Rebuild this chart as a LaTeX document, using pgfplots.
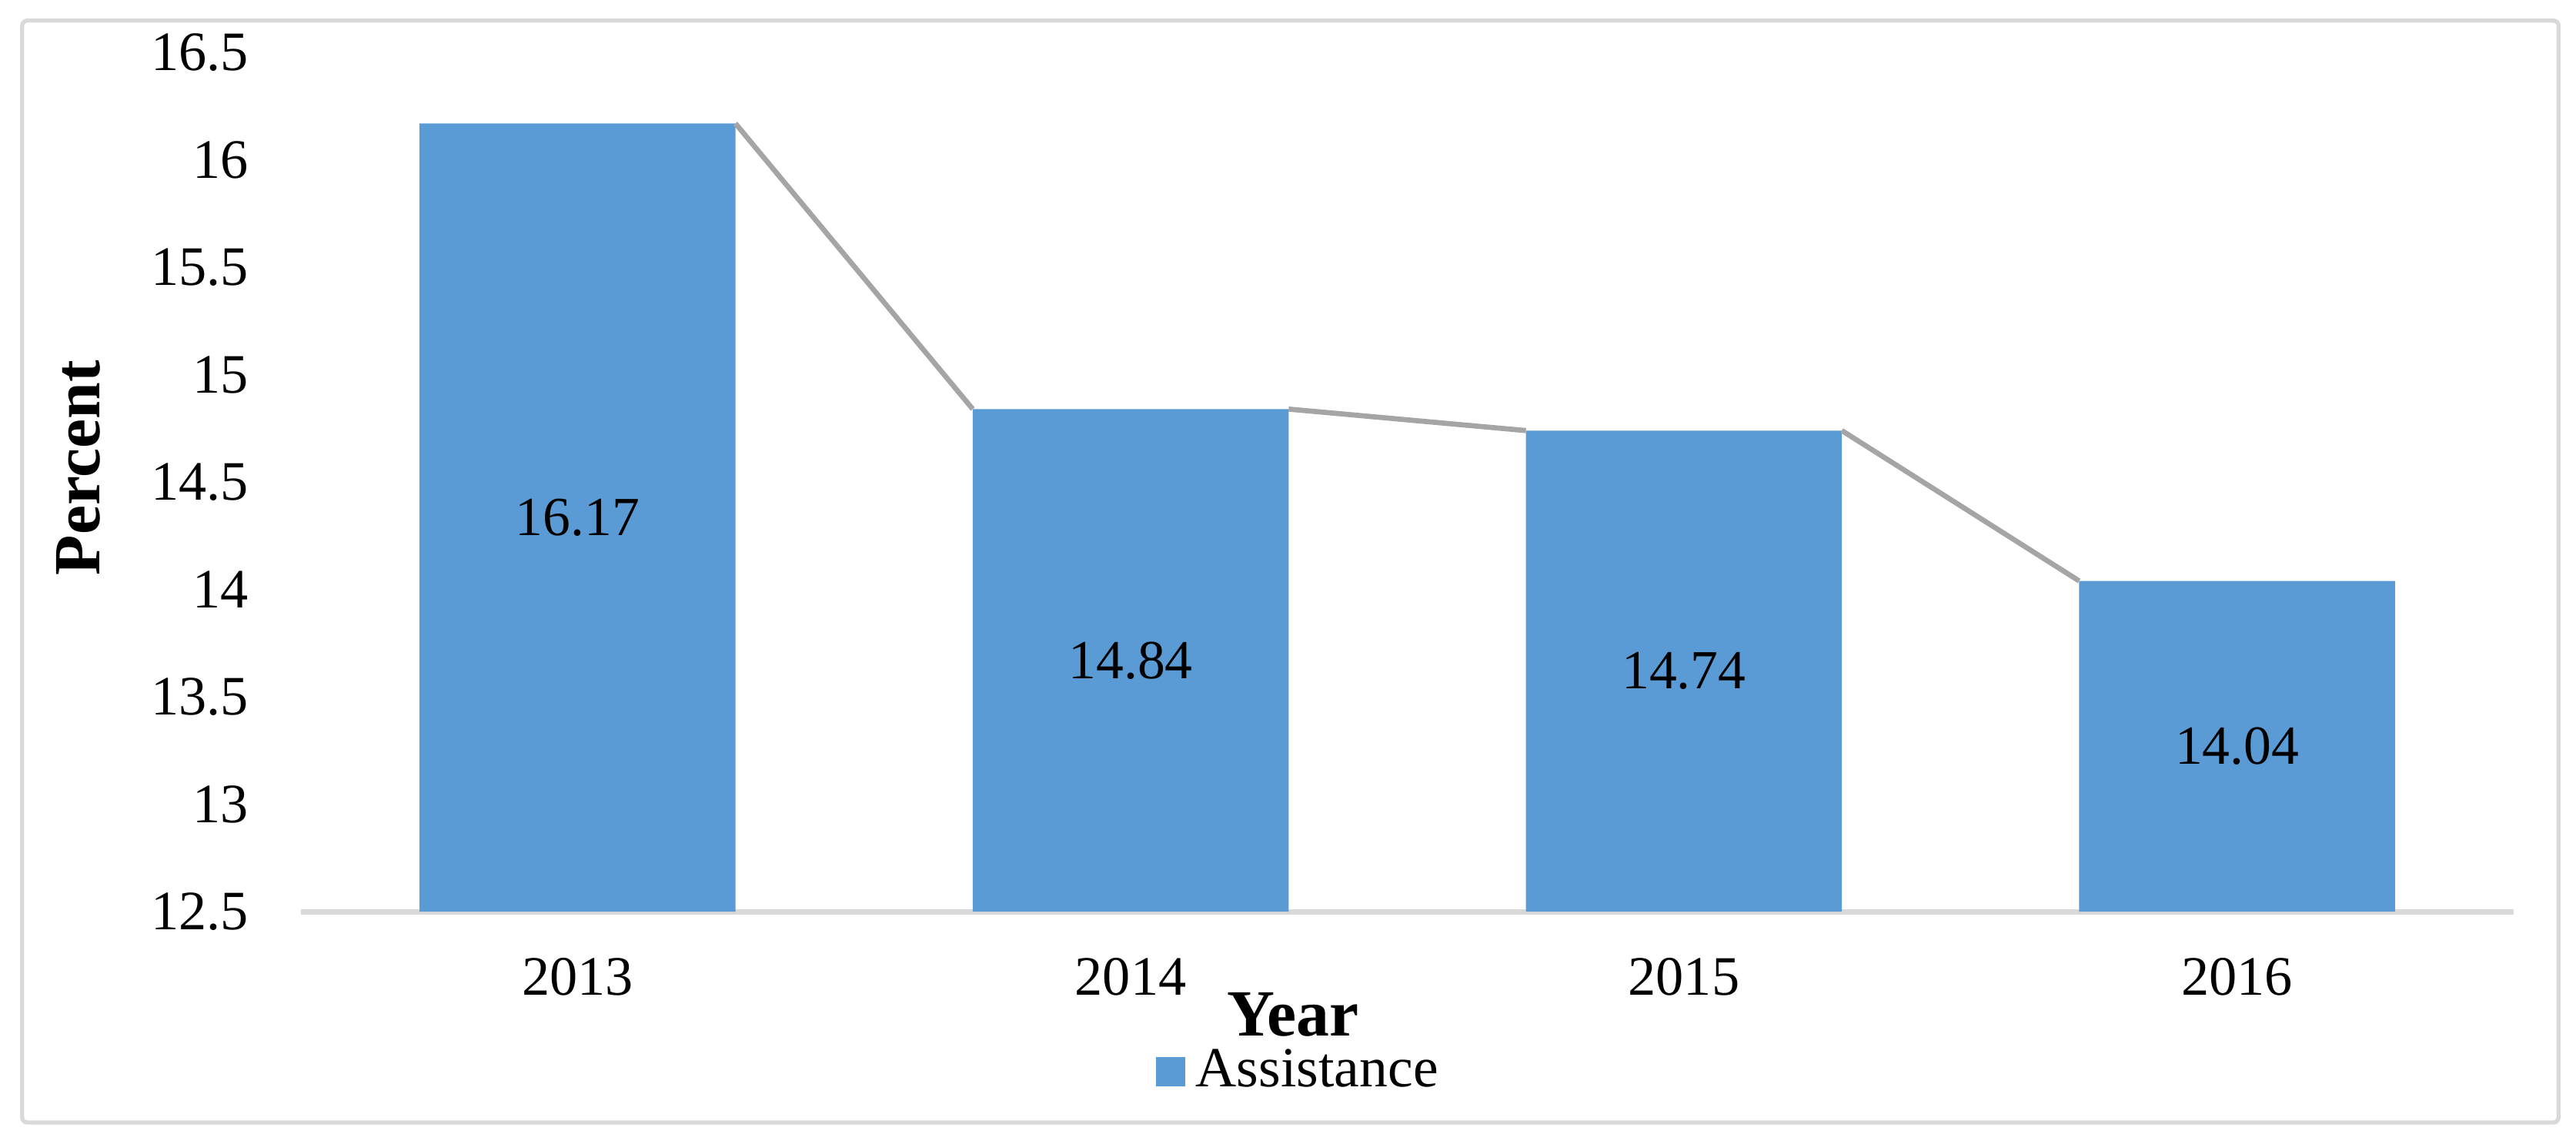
\documentclass[border=0pt]{standalone}
\usepackage{fontspec}
\setmainfont{Liberation Serif}
\usepackage{pgfplots}
\pgfplotsset{compat=1.18}
\definecolor{barblue}{HTML}{5B9BD5}
\definecolor{serline}{HTML}{A5A5A5}
\definecolor{axgray}{HTML}{D9D9D9}
\begin{document}
\begin{tikzpicture}
\begin{axis}[
  at={(0,0)}, anchor=south west,
  scale only axis, width=429.5pt, height=166.7pt,
  xmin=-0.5, xmax=3.5, ymin=12.5, ymax=16.5,
  ytick={12.5,13,13.5,14,14.5,15,15.5,16,16.5},
  xtick={0,1,2,3}, xticklabels={2013,2014,2015,2016},
  axis x line*=bottom, axis y line*=left,
  x axis line style={draw=axgray, line width=1pt, -},
  y axis line style={draw=none},
  major tick length=0pt, tick style={draw=none},
  /pgf/number format/assume math mode=true,
  ticklabel style={font=\fontsize{10.8}{13}\selectfont},
  yticklabel style={xshift=-6.6pt},
  xticklabel style={yshift=-5.5pt},
  xlabel={\textbf{Year}}, ylabel={\textbf{Percent}},
  every axis x label/.style={at={(axis description cs:0.4484,0)}, yshift=-20pt, anchor=center, font=\fontsize{12.8}{15}\selectfont},
  every axis y label/.style={at={(axis description cs:0,0.5165)}, xshift=-43.2pt, rotate=90, anchor=center, font=\fontsize{12.8}{15}\selectfont},
  legend style={draw=none, fill=none, at={(0.4526,-0.1866)}, anchor=center, font=\fontsize{11}{13}\selectfont, inner sep=0pt},
]
\addplot[ybar, bar width=0.571, fill=barblue, draw=none,
  legend image code/.code={\fill[barblue] (0pt,-2.85pt) rectangle (5.7pt,2.85pt);},
  visualization depends on={y \as \rawy},
  nodes near coords={\pgfmathprintnumber[fixed,fixed zerofill,precision=2,assume math mode=true]{\pgfplotspointmeta}},
  nodes near coords style={anchor=center, text=black, font=\fontsize{10.7}{12}\selectfont, yshift={-(\rawy-12.5)*20.8375pt}},
] coordinates {(0,16.17) (1,14.84) (2,14.74) (3,14.04)};
\addlegendentry{Assistance}
\addplot[serline, line width=1pt, forget plot] coordinates {(0.2855,16.17) (0.7145,14.84)};
\addplot[serline, line width=1pt, forget plot] coordinates {(1.2855,14.84) (1.7145,14.74)};
\addplot[serline, line width=1pt, forget plot] coordinates {(2.2855,14.74) (2.7145,14.04)};
\end{axis}
\draw[axgray, line width=0.8pt, rounded corners=1pt] (-54.1pt,-40.9pt) rectangle (438.2pt,172.9pt);
\path (-58.4pt,-44.4pt) rectangle (441.6pt,176.9pt);
\end{tikzpicture}
\end{document}
